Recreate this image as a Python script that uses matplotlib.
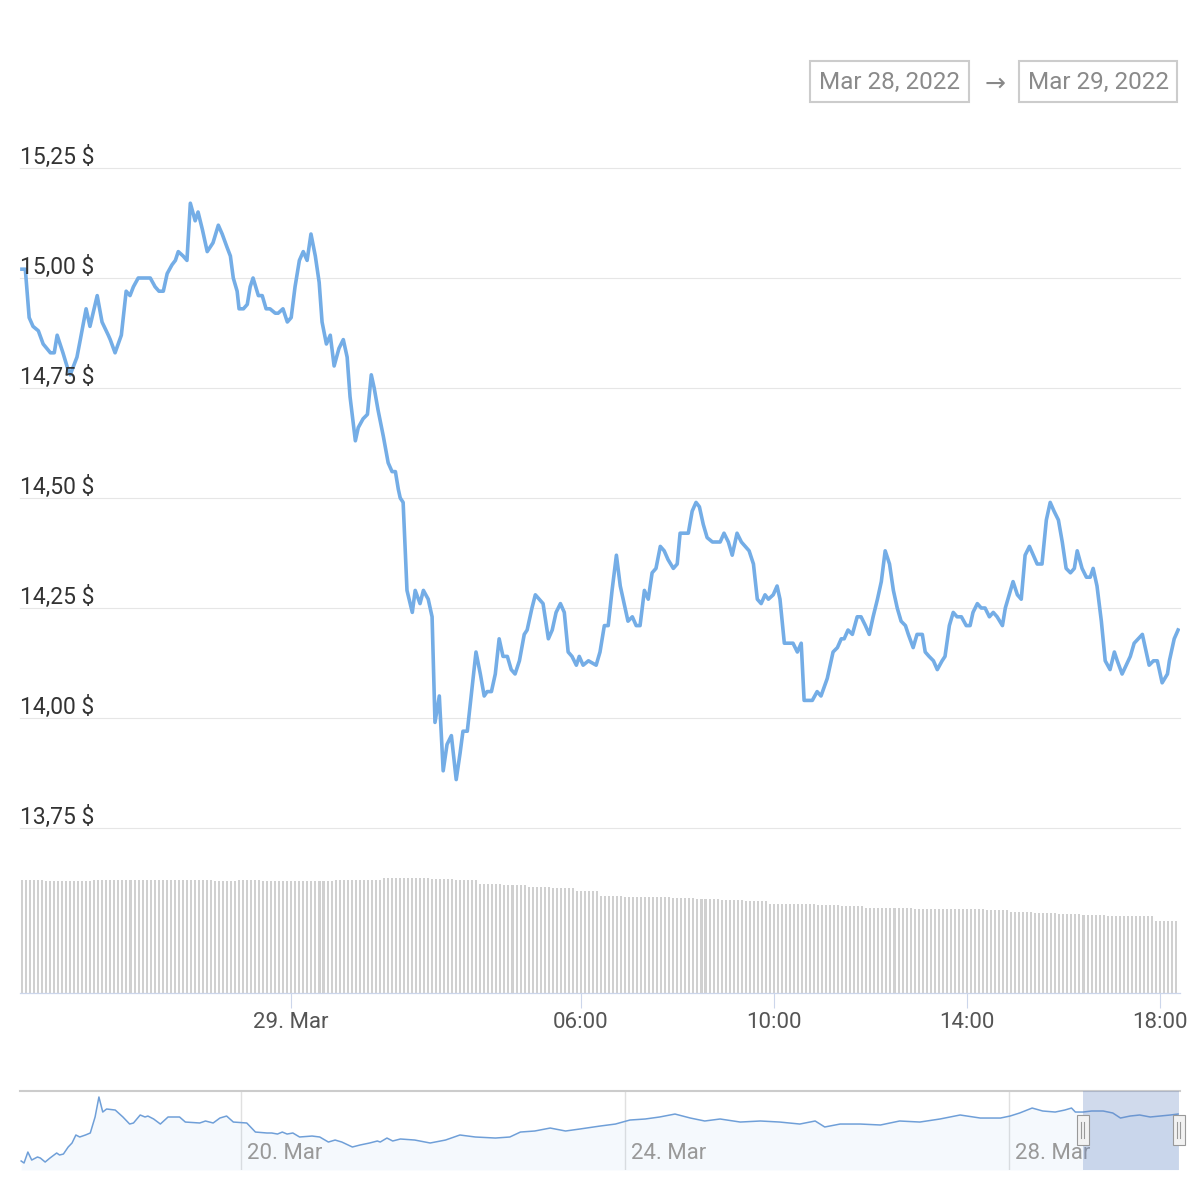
import numpy as np
import matplotlib.pyplot as plt
from matplotlib.patches import Rectangle
import matplotlib.transforms as mtransforms

plt.rcParams['font.family'] = ['Roboto', 'DejaVu Sans']

# price, hours relative to 29 Mar 00:00
hours = [-5.58, -5.51, -5.43, -5.35, -5.24, -5.14, -4.99, -4.91, -4.85, -4.73, -4.62, -4.58,
         -4.44, -4.37, -4.25, -4.17, -4.02, -3.92, -3.79, -3.75, -3.65, -3.52, -3.42, -3.34,
         -3.27, -3.17, -3.07, -2.92, -2.82, -2.74, -2.65, -2.57, -2.47, -2.40, -2.34, -2.24, -2.16,
         -2.09, -1.99, -1.93, -1.84, -1.74, -1.62, -1.51, -1.43, -1.33, -1.26, -1.20, -1.12, -1.08,
         -0.99, -0.91, -0.85, -0.79, -0.68, -0.60, -0.52, -0.44, -0.33, -0.27, -0.17, -0.08,
         0.00, 0.08, 0.17, 0.25, 0.33, 0.41, 0.50, 0.58, 0.64, 0.73, 0.81, 0.89, 0.99, 1.08,
         1.16, 1.22, 1.33, 1.39, 1.49, 1.58, 1.66, 1.72, 1.80, 1.91, 2.01, 2.09, 2.16, 2.22, 2.26, 2.32,
         2.40, 2.51, 2.57, 2.67, 2.74, 2.84, 2.92, 2.98, 3.07, 3.15, 3.23, 3.32, 3.42, 3.50, 3.56, 3.65,
         3.83, 3.92, 4.00, 4.06, 4.15, 4.23, 4.31, 4.39, 4.48, 4.56, 4.64, 4.73, 4.83, 4.89,
         4.99, 5.06, 5.22, 5.33, 5.41, 5.49, 5.58, 5.66, 5.74, 5.82, 5.91, 5.97, 6.05, 6.16, 6.32,
         6.40, 6.49, 6.57, 6.65, 6.74, 6.82, 6.98, 7.07, 7.15, 7.23, 7.32, 7.40, 7.48, 7.56,
         7.65, 7.73, 7.81, 7.92, 8.00, 8.06, 8.15, 8.23, 8.31, 8.39, 8.46, 8.54, 8.62, 8.73, 8.81, 8.89,
         8.97, 9.06, 9.14, 9.24, 9.33, 9.41, 9.49, 9.58, 9.66, 9.74, 9.82, 9.89, 9.99, 10.07, 10.13,
         10.22, 10.30, 10.40, 10.49, 10.57, 10.63, 10.80, 10.90, 10.98, 11.11, 11.23, 11.32, 11.40, 11.46, 11.54, 11.63,
         11.73, 11.81, 11.90, 11.98, 12.06, 12.15, 12.23, 12.31, 12.40, 12.48, 12.56, 12.64, 12.73, 12.79,
         12.89, 12.97, 13.08, 13.14, 13.22, 13.31, 13.39, 13.49, 13.55, 13.64, 13.72, 13.80, 13.89, 13.99, 14.07,
         14.13, 14.22, 14.30, 14.38, 14.47, 14.55, 14.63, 14.74, 14.80, 14.88, 14.96, 15.05, 15.13,
         15.21, 15.30, 15.38, 15.46, 15.56, 15.65, 15.73, 15.81, 15.90, 15.98, 16.06, 16.15, 16.23,
         16.29, 16.39, 16.48, 16.56, 16.62, 16.70, 16.79, 16.87, 16.97, 17.06, 17.12, 17.22,
         17.39, 17.47, 17.64, 17.78, 17.87, 17.95, 18.05, 18.16, 18.20, 18.30, 18.38]

price = [15.02, 15.02, 14.91, 14.89, 14.88, 14.85, 14.83, 14.83, 14.87, 14.83, 14.79, 14.78,
         14.82, 14.86, 14.93, 14.89, 14.96, 14.90, 14.87, 14.86, 14.83, 14.87, 14.97, 14.96,
         14.98, 15.00, 15.00, 15.00, 14.98, 14.97, 14.97, 15.01, 15.03, 15.04, 15.06, 15.05, 15.04,
         15.17, 15.13, 15.15, 15.11, 15.06, 15.08, 15.12, 15.10, 15.07, 15.05, 15.00, 14.97, 14.93,
         14.93, 14.94, 14.98, 15.00, 14.96, 14.96, 14.93, 14.93, 14.92, 14.92, 14.93, 14.90,
         14.91, 14.98, 15.04, 15.06, 15.04, 15.10, 15.05, 14.99, 14.90, 14.85, 14.87, 14.80, 14.84, 14.86,
         14.82, 14.73, 14.63, 14.66, 14.68, 14.69, 14.78, 14.75, 14.70, 14.64, 14.58, 14.56, 14.56, 14.52, 14.50, 14.49,
         14.29, 14.24, 14.29, 14.26, 14.29, 14.27, 14.23, 13.99, 14.05, 13.88, 13.94, 13.96, 13.86, 13.92, 13.97, 13.97,
         14.15, 14.10, 14.05, 14.06, 14.06, 14.10, 14.18, 14.14, 14.14, 14.11, 14.10, 14.13, 14.19, 14.20,
         14.25, 14.28, 14.26, 14.18, 14.20, 14.24, 14.26, 14.24, 14.15, 14.14, 14.12, 14.14, 14.12, 14.13, 14.12,
         14.15, 14.21, 14.21, 14.29, 14.37, 14.30, 14.22, 14.23, 14.21, 14.21, 14.29, 14.27, 14.33, 14.34,
         14.39, 14.38, 14.36, 14.34, 14.35, 14.42, 14.42, 14.42, 14.47, 14.49, 14.48, 14.44, 14.41, 14.40, 14.40, 14.40,
         14.42, 14.40, 14.37, 14.42, 14.40, 14.39, 14.38, 14.35, 14.27, 14.26, 14.28, 14.27, 14.28, 14.30, 14.27,
         14.17, 14.17, 14.17, 14.15, 14.17, 14.04, 14.04, 14.06, 14.05, 14.09, 14.15, 14.16, 14.18, 14.18, 14.20, 14.19,
         14.23, 14.23, 14.21, 14.19, 14.23, 14.27, 14.31, 14.38, 14.35, 14.29, 14.25, 14.22, 14.21, 14.19,
         14.16, 14.19, 14.19, 14.15, 14.14, 14.13, 14.11, 14.13, 14.14, 14.21, 14.24, 14.23, 14.23, 14.21, 14.21,
         14.24, 14.26, 14.25, 14.25, 14.23, 14.24, 14.23, 14.21, 14.25, 14.28, 14.31, 14.28, 14.27,
         14.37, 14.39, 14.37, 14.35, 14.35, 14.45, 14.49, 14.47, 14.45, 14.40, 14.34, 14.33, 14.34,
         14.38, 14.34, 14.32, 14.32, 14.34, 14.30, 14.22, 14.13, 14.11, 14.15, 14.13, 14.10,
         14.14, 14.17, 14.19, 14.12, 14.13, 14.13, 14.08, 14.10, 14.13, 14.18, 14.20]

price_ticks = [13.75, 14.00, 14.25, 14.50, 14.75, 15.00, 15.25]
price_labels = ['13,75 $', '14,00 $', '14,25 $', '14,50 $', '14,75 $', '15,00 $', '15,25 $']

x_ticks = [0, 6, 10, 14, 18]
x_labels = ['29. Mar', '06:00', '10:00', '14:00', '18:00']

# volume, one level per half hour (5 min bars)
vol_levels = [113, 112, 112, 113, 113, 113, 113, 113, 112, 113, 112, 112,
              112, 113, 113, 115, 115, 114, 113, 109, 108, 106, 105, 102,
              97, 96, 96, 95, 94, 93, 92, 89, 89, 88, 87, 85,
              85, 84, 84, 84, 83, 81, 80, 79, 78, 77, 77, 72]

# navigator (days of March)
nav_days = [17.71, 17.74, 17.78, 17.82, 17.88, 17.91, 17.96, 18.01, 18.08, 18.11,
            18.15, 18.20, 18.24, 18.28, 18.32, 18.38, 18.43, 18.48, 18.52, 18.56,
            18.60, 18.69, 18.77, 18.84, 18.88, 18.95, 19.00, 19.03, 19.09, 19.16,
            19.24, 19.29, 19.36, 19.42, 19.57, 19.63, 19.71, 19.78, 19.85, 19.92,
            20.06, 20.15, 20.27, 20.32, 20.38, 20.43, 20.48, 20.54, 20.61, 20.74,
            20.82, 20.91, 20.98, 21.05, 21.16, 21.24, 21.34, 21.42, 21.45, 21.52,
            21.58, 21.66, 21.81, 21.97, 22.13, 22.28, 22.44, 22.65, 22.80, 22.91,
            23.06, 23.22, 23.38, 23.53, 23.74, 23.90, 24.05, 24.21, 24.36, 24.52,
            24.68, 24.83, 24.99, 25.20, 25.41, 25.61, 25.82, 25.98, 26.08, 26.24,
            26.45, 26.66, 26.86, 27.07, 27.28, 27.49, 27.70, 27.91, 28.01, 28.11,
            28.24, 28.35, 28.48, 28.58, 28.65, 28.69, 28.77, 28.86, 28.98, 29.08,
            29.16, 29.26, 29.36, 29.47, 29.57, 29.68, 29.76]
nav_price = [8.60, 8.35, 9.72, 8.72, 9.10, 8.97, 8.47, 8.97, 9.60, 9.35,
             9.47, 10.35, 10.85, 11.85, 11.60, 11.85, 12.10, 14.10, 16.60, 14.72,
             15.10, 14.97, 14.10, 13.22, 13.35, 14.35, 14.10, 14.22, 13.85, 13.22,
             14.10, 14.10, 14.10, 13.47, 13.35, 13.60, 13.35, 13.97, 14.22, 13.47,
             13.35, 12.22, 12.10, 12.10, 11.97, 12.22, 11.97, 12.10, 11.60, 11.72,
             11.60, 10.97, 11.22, 10.97, 10.35, 10.60, 10.85, 11.10, 10.97, 11.47,
             11.10, 11.35, 11.22, 10.85, 11.22, 11.85, 11.60, 11.47, 11.60, 12.22,
             12.35, 12.72, 12.35, 12.60, 12.97, 13.22, 13.72, 13.85, 14.10, 14.47,
             13.97, 13.60, 13.85, 13.47, 13.60, 13.47, 13.22, 13.60, 12.85, 13.22,
             13.22, 13.10, 13.60, 13.47, 13.85, 14.35, 13.97, 13.97, 14.22, 14.60,
             15.22, 14.85, 14.72, 14.97, 15.22, 14.72, 14.72, 14.85, 14.85, 14.60,
             13.97, 14.22, 14.35, 14.10, 14.22, 14.35, 14.47]
nav_ticks = [20, 24, 28]
nav_labels = ['20. Mar', '24. Mar', '28. Mar']

x_min, x_max = -5.62, 18.42
nav_min, nav_max = 17.698, 29.78

fig = plt.figure(figsize=(12, 12), dpi=100)
W = H = 1200.0


def box(x0, y0, x1, y1):
    return [x0 / W, 1 - y1 / H, (x1 - x0) / W, (y1 - y0) / H]


ax = fig.add_axes(box(20, 168, 1180, 828))
axv = fig.add_axes(box(20, 868, 1180, 993), sharex=ax)
axn = fig.add_axes(box(20, 1091, 1180, 1170))

# price pane
ax.plot(hours, price, color='#74ade6', lw=2.6, solid_joinstyle='round', zorder=3)
ax.set_xlim(x_min, x_max)
ax.set_ylim(13.75, 15.25)
for v, lab in zip(price_ticks, price_labels):
    ax.axhline(v, color='#e6e6e6', lw=0.8, zorder=0, clip_on=False)
    ax.annotate(lab, (0, v), xycoords=('axes fraction', 'data'), xytext=(0, 3),
                textcoords='offset points', ha='left', va='baseline',
                fontsize=16.5, color='#333333', zorder=4)
ax.tick_params(bottom=False, labelbottom=False, left=False, labelleft=False)
for s in ax.spines.values():
    s.set_visible(False)
ax.patch.set_alpha(0)

# volume pane
bar_x = hours[0] + np.arange(len(vol_levels) * 6) / 12.0
vol = np.repeat(vol_levels, 6)
axv.bar(bar_x, vol, width=0.042, color='#d0d0d0', linewidth=0)
axv.set_ylim(0, 125)
axv.set_xticks(x_ticks)
axv.set_xticklabels(x_labels)
axv.tick_params(axis='x', length=11, width=0.8, color='#ccd6eb', pad=3,
                labelsize=16, labelcolor='#555555')
axv.tick_params(axis='y', left=False, labelleft=False)
for k in ['top', 'left', 'right']:
    axv.spines[k].set_visible(False)
axv.spines['bottom'].set_color('#ccd6eb')
axv.spines['bottom'].set_linewidth(0.9)
axv.set_xlim(x_min, x_max)

# navigator
axn.set_xlim(nav_min, nav_max)
axn.set_ylim(7.475, 17.35)
axn.fill_between(nav_days, nav_price, 7.475, color='#7cb5ec', alpha=0.07, lw=0)
axn.plot(nav_days, nav_price, color='#6f9fd8', lw=1.1)
for d, lab in zip(nav_ticks, nav_labels):
    axn.axvline(d, color='#e0e0e0', lw=1, zorder=0)
    axn.annotate(lab, (d, 0.215), xycoords=('data', 'axes fraction'), xytext=(4, 0),
                 textcoords='offset points', ha='left', va='center',
                 fontsize=16, color='#999999')
axn.set_xticks([])
axn.set_yticks([])
for k in ['bottom', 'left', 'right']:
    axn.spines[k].set_visible(False)
axn.spines['top'].set_color('#cccccc')
axn.spines['top'].set_linewidth(1.5)

sel0 = 29 + x_min / 24.0
sel1 = 29 + x_max / 24.0
axn.axvspan(sel0, sel1, color='#6685c2', alpha=0.3, lw=0, zorder=5)
trans = mtransforms.blended_transform_factory(axn.transData, axn.transAxes)
day_per_px = (nav_max - nav_min) / 1160.0
for sx in [sel0, sel1]:
    hw = 6 * day_per_px
    axn.add_patch(Rectangle((sx - hw, 0.316), 2 * hw, 0.38, transform=trans,
                            facecolor='#f2f2f2', edgecolor='#999999', lw=0.8,
                            clip_on=False, zorder=6))
    for off in [-1.5, 1.5]:
        axn.plot([sx + off * day_per_px] * 2, [0.405, 0.608], transform=trans,
                 color='#999999', lw=0.8, clip_on=False, zorder=7)

# range inputs
for x0, x1, txt in [(810, 969, 'Mar 28, 2022'), (1019, 1177, 'Mar 29, 2022')]:
    fig.add_artist(Rectangle((x0 / W, 1 - 102 / H), (x1 - x0) / W, 41 / H,
                             transform=fig.transFigure, fill=False,
                             edgecolor='#cccccc', lw=1.5))
    fig.text((x0 + x1) / 2 / W, 1 - 82 / H, txt, ha='center', va='center',
             fontsize=17.5, color='#8a8a8a')
fig.text(995 / W, 1 - 84 / H, '\u2192', ha='center', va='center',
         fontsize=18, color='#888888')

fig.savefig('out.png', dpi=100)
